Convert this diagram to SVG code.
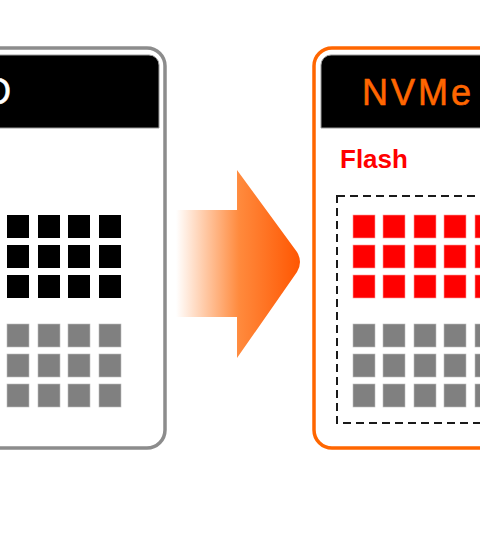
<svg xmlns="http://www.w3.org/2000/svg" width="480" height="540" viewBox="0 0 480 540">
<defs>
<linearGradient id="arrowGrad" gradientUnits="userSpaceOnUse" x1="176" y1="0" x2="302" y2="0">
<stop offset="0" stop-color="#FFFFFF"/>
<stop offset="0.5" stop-color="#FF8A3D"/>
<stop offset="1" stop-color="#FF5500"/>
</linearGradient>
<style>
.blk{fill:#000000}
.gry{fill:#808080;stroke:#BDBDBD;stroke-width:0.6}
.red{fill:#FF0000;stroke:#FF9999;stroke-width:0.6}
.hdr{fill:#000000;stroke:#9A9A9A;stroke-width:1}
.title{font-family:"Liberation Sans",Arial,sans-serif;font-size:36px;letter-spacing:3px;stroke-width:0.6}
</style>
</defs>
<rect width="480" height="540" fill="#FFFFFF"/>

<g id="ssd">
<rect x="-40" y="48" width="205" height="400" rx="18" fill="#FFFFFF" stroke="#8C8C8C" stroke-width="3.5"/>
<path class="hdr" d="M-30 55 H149 A10 10 0 0 1 159 65 V128 H-30 Z"/>
<text class="title" x="14" y="104" fill="#FFFFFF" stroke="#FFFFFF" text-anchor="end">SSD</text>
<g>
<rect class="blk" x="7" y="215" width="22" height="23"/><rect class="blk" x="38" y="215" width="22" height="23"/><rect class="blk" x="68" y="215" width="22" height="23"/><rect class="blk" x="99" y="215" width="22" height="23"/>
<rect class="blk" x="7" y="245" width="22" height="23"/><rect class="blk" x="38" y="245" width="22" height="23"/><rect class="blk" x="68" y="245" width="22" height="23"/><rect class="blk" x="99" y="245" width="22" height="23"/>
<rect class="blk" x="7" y="275" width="22" height="23"/><rect class="blk" x="38" y="275" width="22" height="23"/><rect class="blk" x="68" y="275" width="22" height="23"/><rect class="blk" x="99" y="275" width="22" height="23"/>
<rect class="gry" x="7" y="324" width="22" height="23"/><rect class="gry" x="38" y="324" width="22" height="23"/><rect class="gry" x="68" y="324" width="22" height="23"/><rect class="gry" x="99" y="324" width="22" height="23"/>
<rect class="gry" x="7" y="354" width="22" height="23"/><rect class="gry" x="38" y="354" width="22" height="23"/><rect class="gry" x="68" y="354" width="22" height="23"/><rect class="gry" x="99" y="354" width="22" height="23"/>
<rect class="gry" x="7" y="384" width="22" height="23"/><rect class="gry" x="38" y="384" width="22" height="23"/><rect class="gry" x="68" y="384" width="22" height="23"/><rect class="gry" x="99" y="384" width="22" height="23"/>
</g>
</g>

<g id="connectors">
<path d="M176 210 H237 V170 L297 252 Q303 262 297 272 L237 358 V317 H176 Z" fill="url(#arrowGrad)"/>
</g>

<g id="nvme">
<rect x="314" y="48" width="205" height="400" rx="18" fill="#FFFFFF" stroke="#FF6600" stroke-width="3.5"/>
<path class="hdr" d="M331 55 H500 V128 H321 V65 A10 10 0 0 1 331 55 Z"/>
<text class="title" x="362" y="105" fill="#FF6600" stroke="#FF6600">NVMe</text>
<text x="340" y="168" fill="#FF0000" font-family="'Liberation Sans',Arial,sans-serif" font-weight="bold" font-size="26">Flash</text>
<rect x="337" y="196" width="160" height="227" fill="none" stroke="#1A1A1A" stroke-width="2" stroke-dasharray="8 5"/>
<g>
<rect class="red" x="353" y="215" width="22" height="23"/><rect class="red" x="383" y="215" width="22" height="23"/><rect class="red" x="414" y="215" width="22" height="23"/><rect class="red" x="444" y="215" width="22" height="23"/><rect class="red" x="475" y="215" width="22" height="23"/>
<rect class="red" x="353" y="245" width="22" height="23"/><rect class="red" x="383" y="245" width="22" height="23"/><rect class="red" x="414" y="245" width="22" height="23"/><rect class="red" x="444" y="245" width="22" height="23"/><rect class="red" x="475" y="245" width="22" height="23"/>
<rect class="red" x="353" y="275" width="22" height="23"/><rect class="red" x="383" y="275" width="22" height="23"/><rect class="red" x="414" y="275" width="22" height="23"/><rect class="red" x="444" y="275" width="22" height="23"/><rect class="red" x="475" y="275" width="22" height="23"/>
<rect class="gry" x="353" y="324" width="22" height="23"/><rect class="gry" x="383" y="324" width="22" height="23"/><rect class="gry" x="414" y="324" width="22" height="23"/><rect class="gry" x="444" y="324" width="22" height="23"/><rect class="gry" x="475" y="324" width="22" height="23"/>
<rect class="gry" x="353" y="354" width="22" height="23"/><rect class="gry" x="383" y="354" width="22" height="23"/><rect class="gry" x="414" y="354" width="22" height="23"/><rect class="gry" x="444" y="354" width="22" height="23"/><rect class="gry" x="475" y="354" width="22" height="23"/>
<rect class="gry" x="353" y="384" width="22" height="23"/><rect class="gry" x="383" y="384" width="22" height="23"/><rect class="gry" x="414" y="384" width="22" height="23"/><rect class="gry" x="444" y="384" width="22" height="23"/><rect class="gry" x="475" y="384" width="22" height="23"/>
</g>
</g>
</svg>
